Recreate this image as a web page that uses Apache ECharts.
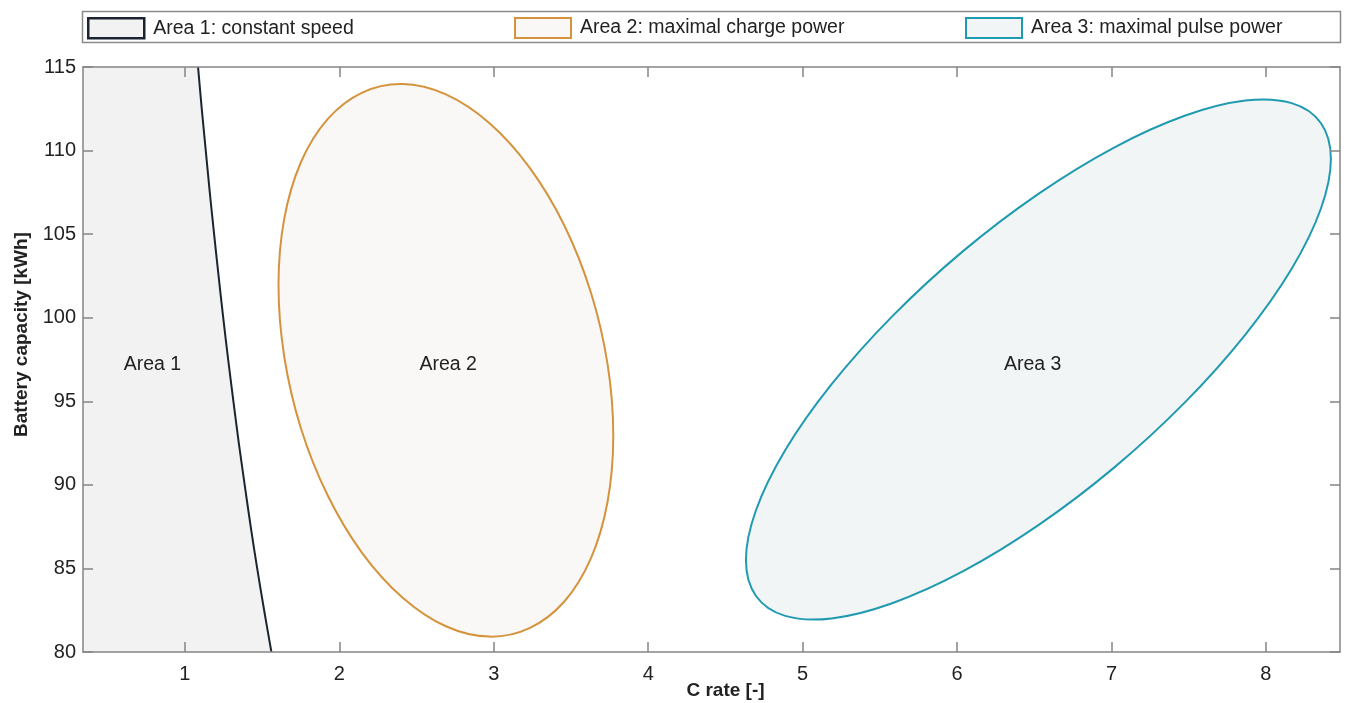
<!DOCTYPE html>
<html>
<head>
<meta charset="utf-8">
<title>Battery capacity vs. C rate</title>
<script src="https://cdn.jsdelivr.net/npm/echarts@6/dist/echarts.min.js"></script>
<style>
  html, body { margin: 0; padding: 0; background: #ffffff; }
  #chart { width: 1346px; height: 703px; }
</style>
</head>
<body>
<div id="chart"></div>
<script>
// ---- data -------------------------------------------------------------
const xTicks = [1, 2, 3, 4, 5, 6, 7, 8];
const xRange = [0.34, 8.48];
const yRange = [80, 115];

const seriesNames = [
  'Area 1: constant speed',
  'Area 2: maximal charge power',
  'Area 3: maximal pulse power'
];

// Area 1 limit: C rate [-] at each battery capacity [kWh]
const area1Boundary = [
  [1.085, 115], [1.109, 112.5], [1.135, 110], [1.161, 107.5], [1.189, 105],
  [1.218, 102.5], [1.248, 100], [1.280, 97.5], [1.314, 95], [1.349, 92.5],
  [1.387, 90], [1.426, 87.5], [1.468, 85], [1.513, 82.5], [1.560, 80]
];

// Area 2 outline: [C rate, capacity]
const area2Outline = [
  [3.774, 92.95], [3.737, 97.22], [3.629, 101.51], [3.457, 105.52],
  [3.232, 108.98], [2.971, 111.65], [2.690, 113.36], [2.410, 113.98],
  [2.148, 113.47], [1.924, 111.88], [1.751, 109.30], [1.643, 105.91],
  [1.606, 101.95], [1.643, 97.68], [1.751, 93.39], [1.924, 89.38],
  [2.148, 85.92], [2.410, 83.25], [2.690, 81.54], [2.971, 80.92],
  [3.232, 81.43], [3.457, 83.02], [3.629, 85.60], [3.737, 88.99]
];

// Area 3 outline: [C rate, capacity]
const area3Outline = [
  [8.421, 109.50], [8.356, 111.65], [8.167, 112.84], [7.866, 112.99],
  [7.474, 112.08], [7.017, 110.18], [6.527, 107.41], [6.037, 103.97],
  [5.580, 100.08], [5.188, 96.02], [4.887, 92.07], [4.698, 88.48],
  [4.633, 85.50], [4.698, 83.35], [4.887, 82.16], [5.188, 82.01],
  [5.580, 82.92], [6.037, 84.82], [6.527, 87.59], [7.017, 91.03],
  [7.474, 94.92], [7.866, 98.98], [8.167, 102.93], [8.356, 106.52]
];

const areaLabels = ['Area 1', 'Area 2', 'Area 3'];
const areaLabelPos = [[0.79, 97.2], [2.705, 97.2], [6.49, 97.2]];

// ---- styles -----------------------------------------------------------
const FONT = '"Liberation Sans", Arial, sans-serif';
const TEXT = '#222222';
const AXIS = '#858585';
const strokes = ['#1c2431', '#d4933c', '#1f9ab0'];
const fills = ['#f2f2f2', '#faf8f6', '#f1f5f6'];
const legendLeft = [87, 514, 965];

const chart = echarts.init(document.getElementById('chart'), null, { renderer: 'canvas' });

function area1Series() {
  return {
    type: 'custom',
    name: seriesNames[0],
    data: area1Boundary,
    clip: true,
    silent: true,
    z: 1,
    renderItem(params, api) {
      if (params.dataIndex !== 0) return null;
      const curve = area1Boundary.map(p => api.coord(p));
      const fillPts = [api.coord([xRange[0], yRange[1]])]
        .concat(curve, [api.coord([xRange[0], yRange[0]])]);
      return {
        type: 'group',
        children: [
          { type: 'polygon', shape: { points: fillPts }, style: { fill: fills[0] } },
          { type: 'polyline', shape: { points: curve, smooth: 0.3 },
            style: { stroke: strokes[0], lineWidth: 2, fill: null } }
        ]
      };
    }
  };
}

function outlineSeries(idx, pts) {
  return {
    type: 'custom',
    name: seriesNames[idx],
    data: pts,
    clip: true,
    silent: true,
    z: 1,
    renderItem(params, api) {
      if (params.dataIndex !== 0) return null;
      const points = pts.map(p => api.coord(p));
      return {
        type: 'polygon',
        shape: { points, smooth: 0.35 },
        style: { fill: fills[idx], stroke: strokes[idx], lineWidth: 2 }
      };
    }
  };
}

const labelSeries = {
  type: 'custom',
  name: 'labels',
  data: areaLabelPos,
  silent: true,
  z: 3,
  renderItem(params, api) {
    const p = api.coord([api.value(0), api.value(1)]);
    return {
      type: 'text',
      x: p[0], y: p[1],
      style: {
        text: areaLabels[params.dataIndex],
        fill: TEXT,
        font: '19.5px ' + FONT,
        align: 'center',
        verticalAlign: 'middle'
      }
    };
  }
};

const tickStyle = { color: AXIS, width: 1.5 };

const option = {
  animation: false,
  backgroundColor: '#ffffff',
  textStyle: { fontFamily: FONT },
  graphic: [{
    type: 'rect',
    shape: { x: 82.5, y: 11.5, width: 1258, height: 31 },
    style: { fill: '#ffffff', stroke: '#8a8a8a', lineWidth: 1.5 },
    z: -1,
    silent: true
  }],
  legend: seriesNames.map((name, i) => ({
    data: [{
      name,
      icon: 'rect',
      itemStyle: { color: fills[i], borderColor: strokes[i], borderWidth: i === 0 ? 2.5 : 2 }
    }],
    left: legendLeft[i],
    top: 17,
    padding: 0,
    itemWidth: 56,
    itemHeight: 20,
    selectedMode: false,
    textStyle: { fontFamily: FONT, fontSize: 19.5, color: TEXT, padding: [0, 0, 0, 4] }
  })),
  grid: { left: 83, right: 6, top: 67, bottom: 51, containLabel: false, outerBoundsMode: 'none' },
  xAxis: [
    {
      type: 'value', position: 'bottom', min: xRange[0], max: xRange[1], z: 5,
      name: 'C rate [-]', nameLocation: 'middle', nameGap: 29, nameMoveOverlap: false,
      nameTextStyle: { fontFamily: FONT, fontWeight: 'bold', fontSize: 19, color: TEXT, padding: [0, 0, 0, 28] },
      axisLine: { show: true, onZero: false, lineStyle: tickStyle },
      axisTick: { show: true, inside: true, length: 10, customValues: xTicks, lineStyle: tickStyle },
      axisLabel: { customValues: xTicks, margin: 12, fontFamily: FONT, fontSize: 20, color: TEXT },
      splitLine: { show: false }
    },
    {
      type: 'value', position: 'top', min: xRange[0], max: xRange[1], z: 5,
      axisLine: { show: true, onZero: false, lineStyle: tickStyle },
      axisTick: { show: true, inside: true, length: 10, customValues: xTicks, lineStyle: tickStyle },
      axisLabel: { show: false, customValues: xTicks },
      splitLine: { show: false }
    }
  ],
  yAxis: [
    {
      type: 'value', position: 'left', min: yRange[0], max: yRange[1], interval: 5, z: 5,
      name: 'Battery capacity [kWh]', nameLocation: 'middle', nameGap: 52,
      nameTextStyle: { fontFamily: FONT, fontWeight: 'bold', fontSize: 19, color: TEXT, padding: [0, 0, 0, 50] },
      axisLine: { show: true, onZero: false, lineStyle: tickStyle },
      axisTick: { show: true, inside: true, length: 10, lineStyle: tickStyle },
      axisLabel: { margin: 7, fontFamily: FONT, fontSize: 20, color: TEXT },
      splitLine: { show: false }
    },
    {
      type: 'value', position: 'right', min: yRange[0], max: yRange[1], interval: 5, z: 5,
      axisLine: { show: true, onZero: false, lineStyle: tickStyle },
      axisTick: { show: true, inside: true, length: 10, lineStyle: tickStyle },
      axisLabel: { show: false },
      splitLine: { show: false }
    }
  ],
  series: [
    area1Series(),
    outlineSeries(1, area2Outline),
    outlineSeries(2, area3Outline),
    labelSeries
  ]
};

chart.setOption(option);
</script>
</body>
</html>
